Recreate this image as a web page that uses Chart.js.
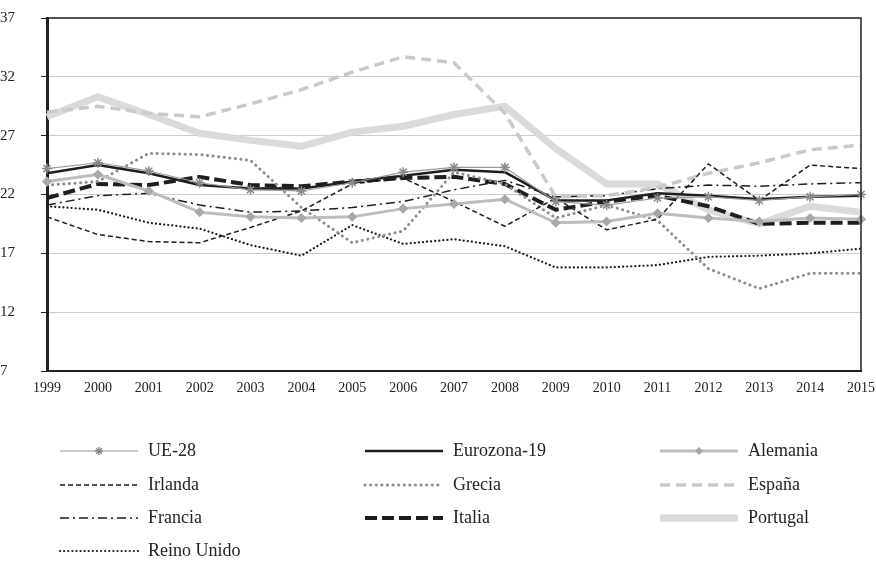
<!DOCTYPE html>
<html>
<head>
<meta charset="utf-8">
<script src="https://cdn.jsdelivr.net/npm/chart.js@4/dist/chart.umd.min.js"></script>
<style>
  html, body { margin: 0; padding: 0; background: #fff; }
  #chartBox { position: relative; width: 876px; height: 561px; }
</style>
</head>
<body>
<div id="chartBox"><canvas id="c"></canvas></div>
<script>
'use strict';

// ── Data ──────────────────────────────────────────────────────────────────────
const YEARS   = ['1999','2000','2001','2002','2003','2004','2005','2006','2007','2008','2009','2010','2011','2012','2013','2014','2015'];
const Y_TICKS = [7, 12, 17, 22, 27, 32, 37];

const UE28      = [24.2, 24.7, 24.0, 23.0, 22.4, 22.3, 23.0, 23.9, 24.3, 24.3, 21.4, 21.1, 21.7, 21.8, 21.5, 21.8, 22.0];
const EUROZONA  = [23.8, 24.5, 23.8, 22.8, 22.5, 22.5, 23.1, 23.6, 24.1, 23.9, 21.5, 21.5, 22.1, 21.9, 21.6, 21.8, 21.9];
const ALEMANIA  = [23.1, 23.7, 22.3, 20.5, 20.1, 20.0, 20.1, 20.8, 21.2, 21.6, 19.6, 19.7, 20.4, 20.0, 19.7, 20.0, 19.9];
const IRLANDA   = [20.1, 18.6, 18.0, 17.9, 19.2, 20.6, 22.9, 23.4, 21.4, 19.3, 21.7, 19.0, 19.9, 24.6, 21.5, 24.5, 24.2];
const GRECIA    = [22.8, 23.1, 25.5, 25.4, 24.9, 20.9, 17.9, 18.9, 23.9, 22.9, 20.0, 21.1, 19.8, 15.7, 14.0, 15.3, 15.3];
const ESPANA    = [29.0, 29.5, 28.9, 28.6, 29.7, 30.9, 32.4, 33.7, 33.2, 28.9, 21.8, 21.9, 22.6, 23.8, 24.7, 25.8, 26.2];
const FRANCIA   = [21.1, 21.9, 22.1, 21.1, 20.5, 20.6, 20.9, 21.4, 22.4, 23.2, 21.8, 21.9, 22.5, 22.8, 22.7, 22.9, 23.0];
const ITALIA    = [21.7, 22.9, 22.8, 23.5, 22.8, 22.7, 23.1, 23.4, 23.5, 22.9, 20.7, 21.4, 21.9, 21.0, 19.5, 19.6, 19.6];
const PORTUGAL  = [28.6, 30.3, 28.8, 27.2, 26.6, 26.1, 27.3, 27.8, 28.8, 29.5, 25.9, 22.9, 22.9, 20.7, 19.5, 21.0, 20.5];
const REINO     = [21.0, 20.7, 19.6, 19.1, 17.7, 16.8, 19.4, 17.8, 18.2, 17.6, 15.8, 15.8, 16.0, 16.7, 16.8, 17.0, 17.4];

// ── Series styles ─────────────────────────────────────────────────────────────
const SERIES = [
  { label: 'UE-28',       data: UE28,     color: '#9a9a9a', width: 1.2, dash: [],          point: 'star',    pr: 5, pc: '#8a8a8a' },
  { label: 'Eurozona-19', data: EUROZONA, color: '#1e1e1e', width: 2.5, dash: [] },
  { label: 'Alemania',    data: ALEMANIA, color: '#bdbdbd', width: 3,   dash: [],          point: 'rectRot', pr: 4, pc: '#a8a8a8' },
  { label: 'Irlanda',     data: IRLANDA,  color: '#1e1e1e', width: 1.5, dash: [5, 3] },
  { label: 'Grecia',      data: GRECIA,   color: '#8c8c8c', width: 3,   dash: [0.1, 5.5],  cap: 'round' },
  { label: 'España',      data: ESPANA,   color: '#c9c9c9', width: 3.5, dash: [10, 6] },
  { label: 'Francia',     data: FRANCIA,  color: '#1e1e1e', width: 1.5, dash: [9, 4, 2, 4] },
  { label: 'Italia',      data: ITALIA,   color: '#1e1e1e', width: 4,   dash: [12, 5] },
  { label: 'Portugal',    data: PORTUGAL, color: '#dadada', width: 7,   dash: [] },
  { label: 'Reino Unido', data: REINO,    color: '#1e1e1e', width: 2.2, dash: [0.1, 4],    cap: 'round' },
];

const FONT = '"Liberation Serif", "Times New Roman", serif';

// ── Frame plugin (box around plot area) ───────────────────────────────────────
const framePlugin = {
  id: 'frame',
  afterDraw(chart) {
    const { ctx, chartArea: a } = chart;
    ctx.save();
    ctx.strokeStyle = '#222';
    ctx.lineWidth = 1.5;
    ctx.beginPath();
    ctx.moveTo(a.left, a.top);
    ctx.lineTo(a.right, a.top);
    ctx.lineTo(a.right, a.bottom);
    ctx.stroke();
    ctx.restore();
  }
};

// ── Legend plugin (3 columns below the chart) ─────────────────────────────────
const LEG_COLS = [60, 365, 660];
const LEG_ROWS = [451, 485, 518, 551];
const LEG_LINE = 78;

const legendPlugin = {
  id: 'gridLegend',
  afterDraw(chart) {
    const ctx = chart.ctx;
    ctx.save();
    SERIES.forEach((s, i) => {
      const x = LEG_COLS[i % 3];
      const y = LEG_ROWS[Math.floor(i / 3)];
      // sample line
      ctx.strokeStyle = s.color;
      ctx.lineWidth = s.width;
      ctx.setLineDash(s.dash);
      ctx.lineCap = s.cap || 'butt';
      ctx.beginPath();
      ctx.moveTo(x, y);
      ctx.lineTo(x + LEG_LINE, y);
      ctx.stroke();
      ctx.setLineDash([]);
      ctx.lineCap = 'butt';
      // marker
      if (s.point) {
        ctx.fillStyle = s.pc;
        ctx.strokeStyle = s.pc;
        ctx.lineWidth = 1.5;
        Chart.helpers.drawPoint(ctx, { pointStyle: s.point, radius: s.pr - 1, borderWidth: 1.5 }, x + LEG_LINE / 2, y);
      }
      // label
      ctx.fillStyle = '#222';
      ctx.font = '18px ' + FONT;
      ctx.textBaseline = 'middle';
      ctx.textAlign = 'left';
      ctx.fillText(s.label, x + LEG_LINE + 10, y);
    });
    ctx.restore();
  }
};

// ── Chart ─────────────────────────────────────────────────────────────────────
Chart.defaults.font.family = FONT;
Chart.defaults.color = '#222';

new Chart(document.getElementById('c'), {
  type: 'line',
  data: {
    labels: YEARS,
    datasets: SERIES.map(s => ({
      label:           s.label,
      data:            s.data,
      borderColor:     s.color,
      backgroundColor: s.pc || s.color,
      borderWidth:     s.width,
      borderDash:      s.dash,
      borderCapStyle:  s.cap || 'butt',
      borderJoinStyle: 'round',
      tension:         0,
      fill:            false,
      pointStyle:      s.point || 'circle',
      pointRadius:     s.point ? s.pr : 0,
      pointBorderColor: s.pc || s.color,
      pointBackgroundColor: s.pc || s.color,
      pointBorderWidth: 1.5,
    }))
  },
  options: {
    responsive: true,
    maintainAspectRatio: false,
    animation: false,
    layout: { padding: { top: 18, right: 14, left: 0, bottom: 161 } },
    plugins: { legend: { display: false }, tooltip: { enabled: false } },
    scales: {
      x: {
        offset: false,
        grid:   { display: false, drawTicks: true },
        border: { color: '#222', width: 2 },
        ticks:  { font: { size: 14 }, maxRotation: 0, autoSkip: false, padding: 1 },
        afterFit: sc => { sc.height = 29; }
      },
      y: {
        min: 7, max: 37,
        afterBuildTicks: sc => { sc.ticks = Y_TICKS.map(v => ({ value: v })); },
        grid:   { color: '#cccccc', lineWidth: 1, tickLength: 6, tickColor: '#222' },
        border: { color: '#222', width: 3 },
        ticks:  { font: { size: 15 }, padding: 6, crossAlign: 'far' },
        afterFit: sc => { sc.width = 47; }
      }
    }
  },
  plugins: [framePlugin, legendPlugin]
});
</script>
</body>
</html>
